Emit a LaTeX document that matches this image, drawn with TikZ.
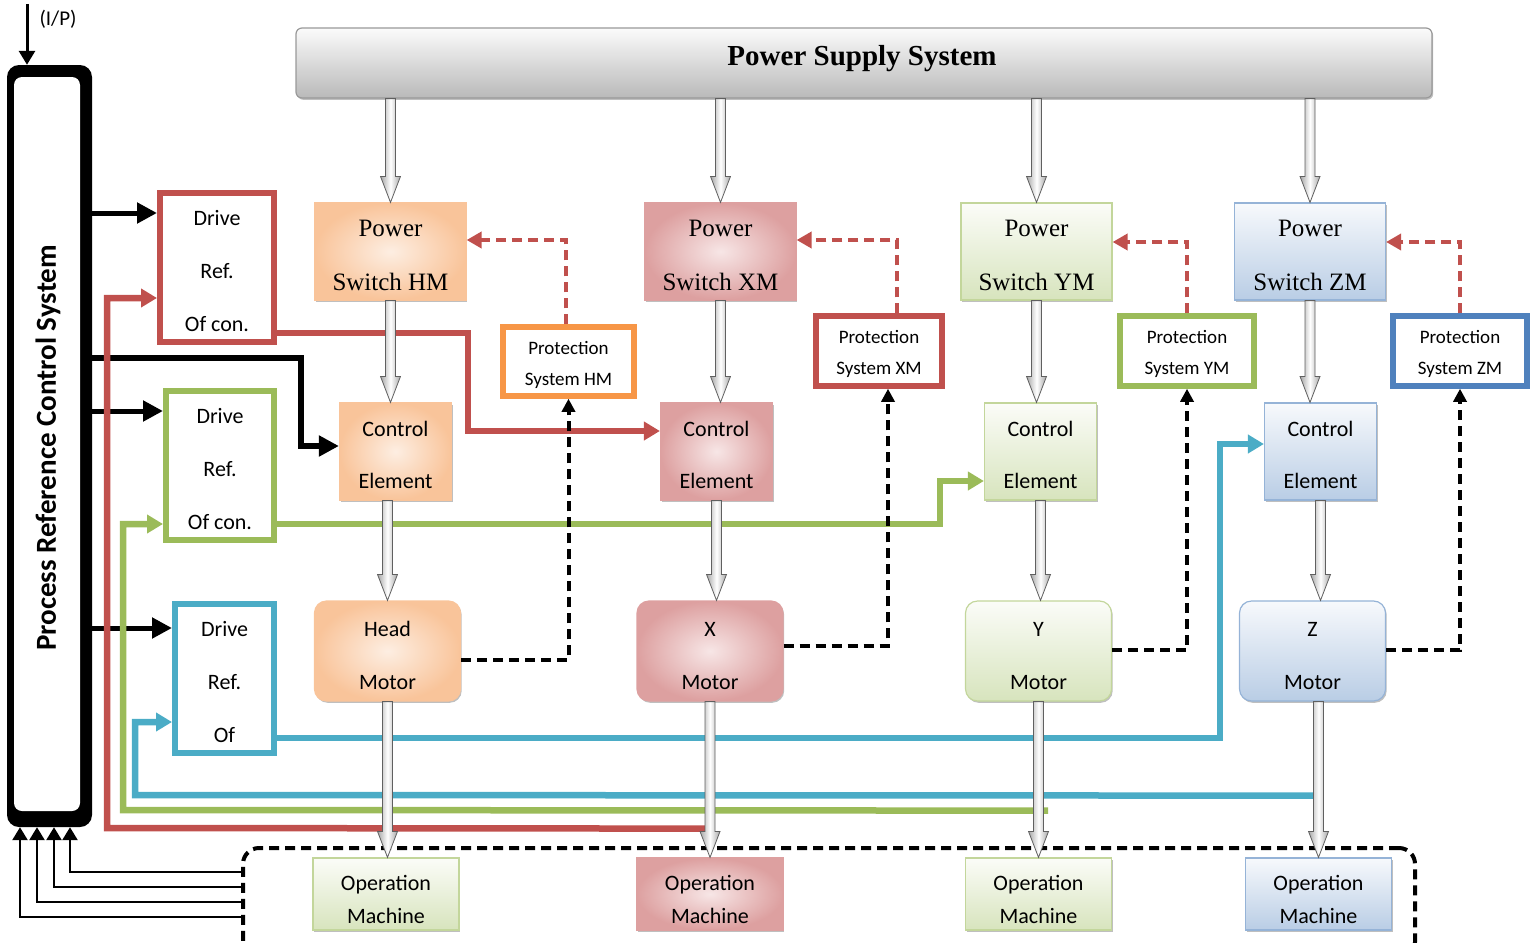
\documentclass[tikz,border=0pt]{standalone}
\usepackage{fontspec}
\setmainfont{Liberation Serif}
\newfontfamily\calib{Carlito}
\usetikzlibrary{arrows.meta,calc,shadows}

\definecolor{cRed}{HTML}{C0504D}
\definecolor{cGreen}{HTML}{9BBB59}
\definecolor{cBlue}{HTML}{4BACC6}
\definecolor{cDBlue}{HTML}{4F81BD}
\definecolor{cOrange}{HTML}{F79646}
\definecolor{oL}{HTML}{FDEEE2}
\definecolor{oD}{HTML}{F9C49A}
\definecolor{rL}{HTML}{F7E6E6}
\definecolor{rD}{HTML}{DDA0A0}
\definecolor{gL}{HTML}{FBFCF8}
\definecolor{gD}{HTML}{D7E4BD}
\definecolor{gB}{HTML}{C3D69B}
\definecolor{bL}{HTML}{F7F9FC}
\definecolor{bD}{HTML}{B9CDE5}
\definecolor{bB}{HTML}{95B3D7}

\newcommand\topstrut[1]{\rule{0pt}{#1em}}

\tikzset{
 base/.style={inner sep=0pt, align=center, line width=1.2pt,
   drop shadow={shadow xshift=1.2pt, shadow yshift=-1.8pt, fill=black!50, opacity=.5}},
 swbox/.style={base, minimum width=151pt, minimum height=97pt, font=\fontsize{25}{30}\selectfont},
 cebox/.style={base, minimum width=112pt, minimum height=97pt, font=\calib\fontsize{22}{26}\selectfont},
 mbox/.style={base, minimum width=146pt, minimum height=100pt, rounded corners=12pt, font=\calib\fontsize{22}{26}\selectfont},
 ombox/.style={base, minimum width=146pt, minimum height=72pt, font=\calib\fontsize{22}{26}\selectfont},
 fOr/.style={draw=oD, inner color=oL, outer color=oD},
 fRd/.style={draw=rD, inner color=rL, outer color=rD},
 fGn/.style={draw=gB, top color=gL, bottom color=gD},
 fBl/.style={draw=bB, top color=bL, bottom color=bD},
 prot/.style={draw, line width=5.5pt, fill=white, minimum height=70pt, align=center, inner sep=0pt,
   font=\calib\fontsize{19}{23}\selectfont},
 drv/.style={draw, line width=6pt, fill=white, minimum height=149pt, align=center, inner sep=0pt,
   font=\calib\fontsize{22}{26}\selectfont},
 blk/.style={line width=5pt, -{Triangle[length=20pt,width=20pt]}},
 colline/.style={line width=6.5pt, -{Triangle[length=16pt,width=18pt]}},
 bdash/.style={line width=4pt, dash pattern=on 10pt off 6pt, -{Triangle[length=13pt,width=13pt]}},
 rdash/.style={line width=4pt, cRed, dash pattern=on 10pt off 6pt, -{Triangle[length=15pt,width=16pt]}},
 fb/.style={line width=2.5pt, -{Triangle[length=13pt,width=15pt]}},
 garr/.style={draw=gray!75!black, line width=0.8pt, left color=gray!70, right color=gray!70, middle color=white},
}

\newcommand\garrow[2]{%
 \path[garr] let \p1=(#1), \p2=(#2) in
 (\x1-5pt,\y1) -- (\x1-5pt,\y2+26pt) -- (\x1-10pt,\y2+26pt) -- (\x1,\y2) --
 (\x1+10pt,\y2+26pt) -- (\x1+5pt,\y2+26pt) -- (\x1+5pt,\y1) -- cycle;}

\begin{document}
\begin{tikzpicture}[x=1pt,y=-1pt]
\useasboundingbox (0,0) rectangle (1538,942);

% left control system
\node[fill=black, rounded corners=12pt, minimum width=85pt, minimum height=762pt, inner sep=0pt] (prc) at (49.5,446) {};
\fill[white, rounded corners=8pt] (14,77) rectangle (80,811);
\node[rotate=90, font=\calib\bfseries\fontsize{29}{34}\selectfont] (prcT) at (48,448) {Process Reference Control System};
\coordinate (ip) at (27,4);
\draw[line width=3pt, -{Triangle[length=14pt,width=16pt]}] (ip) -- ([xshift=-22.5pt]prc.north);
\node[font=\calib\fontsize{21}{25}\selectfont] (ipT) at (58,19) {(I/P)};

% power supply
\node[draw=gray!80, line width=1.2pt, rounded corners=6pt, minimum width=1136pt, minimum height=70pt,
  top color=gray!3, bottom color=gray!55,
  drop shadow={shadow xshift=1.2pt, shadow yshift=-1.8pt, fill=black!50, opacity=.5}] (pss) at (864,63) {};
\node[font=\bfseries\fontsize{29}{34}\selectfont] (pssT) at (862,59) {Power Supply System};

% power switches
\node[swbox,fOr] (swHM) at (390.5,251.5) {\topstrut{0.95}Power\\[24pt]Switch HM};
\node[swbox,fRd] (swXM) at (720.5,251.5) {\topstrut{0.95}Power\\[24pt]Switch XM};
\node[swbox,fGn] (swYM) at (1036.5,251.5) {\topstrut{0.95}Power\\[24pt]Switch YM};
\node[swbox,fBl] (swZM) at (1310,251.5) {\topstrut{0.95}Power\\[24pt]Switch ZM};

% control elements
\node[cebox,fOr] (ceHM) at (395.5,451.5) {\topstrut{1.05}Control\\[26pt]Element};
\node[cebox,fRd] (ceXM) at (716.5,451.5) {\topstrut{1.05}Control\\[26pt]Element};
\node[cebox,fGn] (ceYM) at (1040.5,451.5) {\topstrut{1.05}Control\\[26pt]Element};
\node[cebox,fBl] (ceZM) at (1320.5,451.5) {\topstrut{1.05}Control\\[26pt]Element};

% motors
\node[mbox,fOr] (mH) at (387.5,651) {\topstrut{1.1}Head\\[27pt]Motor};
\node[mbox,fRd] (mX) at (710,651) {\topstrut{1.1}X\\[27pt]Motor};
\node[mbox,fGn] (mY) at (1038.5,651) {\topstrut{1.1}Y\\[27pt]Motor};
\node[mbox,fBl] (mZ) at (1312.5,651) {\topstrut{1.1}Z\\[27pt]Motor};

% operation area
\node[draw, line width=4pt, dash pattern=on 10pt off 6pt, rounded corners=16pt,
  minimum width=1172pt, minimum height=110pt] (opbox) at (829,903) {};
\node[ombox,fGn] (omH) at (386,894) {\topstrut{1.2}Operation\\[7pt]Machine};
\node[ombox,fRd] (omX) at (710,894) {\topstrut{1.2}Operation\\[7pt]Machine};
\node[ombox,fGn] (omY) at (1038.5,894) {\topstrut{1.2}Operation\\[7pt]Machine};
\node[ombox,fBl] (omZ) at (1318.5,894) {\topstrut{1.2}Operation\\[7pt]Machine};

% protection systems
\node[prot, draw=cOrange, minimum width=131pt, minimum height=69pt] (pHM) at (568.5,361.5) {\topstrut{1.05}Protection\\[8pt]System HM};
\node[prot, draw=cRed, minimum width=126pt] (pXM) at (879,351) {\topstrut{1.05}Protection\\[8pt]System XM};
\node[prot, draw=cGreen, minimum width=134pt] (pYM) at (1187,351) {\topstrut{1.05}Protection\\[8pt]System YM};
\node[prot, draw=cDBlue, minimum width=134pt] (pZM) at (1460,351) {\topstrut{1.05}Protection\\[8pt]System ZM};

% drive reference boxes
\node[drv, draw=cRed, minimum width=114pt] (dR) at (217,267.5) {\topstrut{1.05}Drive\\[27pt]Ref.\\[27pt]Of con.};
\node[drv, draw=cGreen, minimum width=108pt] (dG) at (220,465.5) {\topstrut{1.05}Drive\\[27pt]Ref.\\[27pt]Of con.};
\node[drv, draw=cBlue, minimum width=99pt] (dB) at (224.5,678.5) {\topstrut{1.05}Drive\\[27pt]Ref.\\[27pt]Of};

% black connectors from the control system
\coordinate (dRin) at ([yshift=54.5pt]dR.west);
\coordinate (dGin) at ([yshift=54.5pt]dG.west);
\coordinate (dBin) at ([yshift=50.5pt]dB.west);
\draw[blk] (prc.east |- dRin) -- (dRin);
\draw[blk] (prc.east |- dGin) -- (dGin);
\draw[blk] (prc.east |- dBin) -- (dBin);
\coordinate (bk) at (301,358);
\coordinate (ceHin) at ([yshift=5.5pt]ceHM.west);
\draw[blk, line width=6.5pt] (prc.east |- bk) -- (bk) |- (ceHin);

% red
\coordinate (rk) at (468,333);
\coordinate (ceXin) at ([yshift=20.5pt]ceXM.west);
\draw[colline, cRed] (dR.east |- rk) -- (rk) |- (ceXin);
\coordinate (rf) at ($(mX.south)+(2,127)$);
\coordinate (rc) at (107,828);
\coordinate (dRfb) at ([yshift=-30.5pt]dR.west);
\draw[colline, cRed] (rf) -- (rc) |- (dRfb);

% green
\coordinate (gk) at (940,524);
\coordinate (ceYin) at ([yshift=-29.5pt]ceYM.west);
\draw[colline, cGreen] (dG.east |- gk) -- (gk) |- (ceYin);
\coordinate (gf) at ($(mY.south)+(9.5,109)$);
\coordinate (gc) at (123,810);
\coordinate (dGfb) at ([yshift=-58.5pt]dG.west);
\draw[colline, cGreen] (gf) -- (gc) |- (dGfb);

% blue
\coordinate (bk2) at (1220,738);
\coordinate (ceZin) at ([yshift=7.5pt]ceZM.west);
\draw[colline, cBlue] (dB.east |- bk2) -- (bk2) |- (ceZin);
\coordinate (bf) at ($(mZ.south)+(5.5,94)$);
\coordinate (bc) at (135,795);
\coordinate (dBfb) at ([yshift=-43.5pt]dB.west);
\draw[colline, cBlue] (bf) -- (bc) |- (dBfb);

% motor -> protection (black dashed)
\draw[bdash] ([yshift=-9pt]mH.east) -| (pHM.south);
\draw[bdash] ([yshift=5pt]mX.east) -| ([xshift=9pt]pXM.south);
\draw[bdash] ([yshift=1pt]mY.east) -| (pYM.south);
\draw[bdash] ([yshift=1pt]mZ.east) -| (pZM.south);

% protection -> switch (red dashed)
\draw[rdash] ([xshift=-3pt]pHM.north) |- ([yshift=11.5pt]swHM.east);
\draw[rdash] ([xshift=18pt]pXM.north) |- ([yshift=11.5pt]swXM.east);
\draw[rdash] (pYM.north) |- ([yshift=9.5pt]swYM.east);
\draw[rdash] (pZM.north) |- ([yshift=9.5pt]swZM.east);

% feedback from operation area
\draw[fb] ([yshift=31pt]opbox.west) -| ([xshift=20.5pt]prc.south);
\draw[fb] ([yshift=16pt]opbox.west) -| ([xshift=4.5pt]prc.south);
\draw[fb] ([yshift=1pt]opbox.west) -| ([xshift=-12.5pt]prc.south);
\draw[fb] ([yshift=-14pt]opbox.west) -| ([xshift=-29.5pt]prc.south);

% gray power arrows
\garrow{swHM.north |- pss.south}{swHM.north}
\garrow{swXM.north |- pss.south}{swXM.north}
\garrow{swYM.north |- pss.south}{swYM.north}
\garrow{swZM.north |- pss.south}{swZM.north}
\garrow{swHM.south}{ceHM.north}
\garrow{swXM.south}{ceXM.north}
\garrow{swYM.south}{ceYM.north}
\garrow{swZM.south}{ceZM.north}
\garrow{mH.north |- ceHM.south}{mH.north}
\garrow{ceXM.south}{mX.north}
\garrow{ceYM.south}{mY.north}
\garrow{ceZM.south}{mZ.north}
\garrow{mH.south}{omH.north}
\garrow{mX.south}{omX.north}
\garrow{mY.south}{omY.north}
\garrow{omZ.north |- mZ.south}{omZ.north}
\end{tikzpicture}
\end{document}
